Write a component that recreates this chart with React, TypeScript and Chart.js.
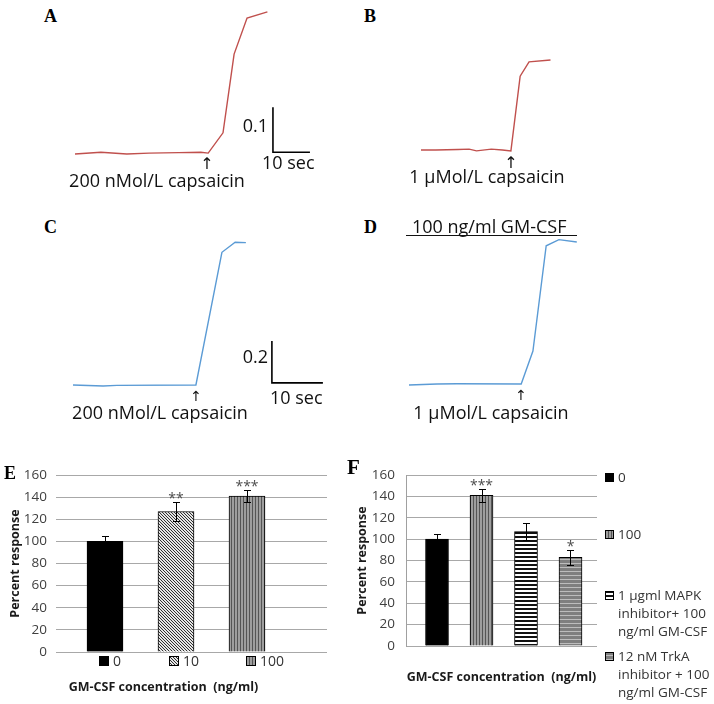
import React, { useEffect, useRef } from 'react';
import { Chart, registerables } from 'chart.js';

Chart.register(...registerables);

const SANS = '"Open Sans", "Noto Sans", "DejaVu Sans", sans-serif';
const SERIF = '"Liberation Serif", "DejaVu Serif", serif';
const ARROW_FONT = '"DejaVu Sans", sans-serif';

// ---------- Panels A–D: calcium-imaging traces (time in s, change in ratio) ----------
const A_TIME = [0, 7, 14, 20, 28, 34, 36, 40, 43, 46.5, 52];
const A_RATIO = [0, 0.004, 0, 0.002, 0.003, 0.004, 0.002, 0.047, 0.222, 0.302, 0.316];
const B_TIME = [0, 4, 10, 13, 15, 19, 22, 24.3, 26.8, 29.2, 35];
const B_RATIO = [0, 0, 0.001, 0.002, -0.002, 0.002, 0, -0.002, 0.164, 0.196, 0.2];
const C_TIME = [0, 5.9, 8.6, 24.1, 29.2, 31.8, 33.9];
const C_RATIO = [0, -0.005, -0.002, 0, 0.632, 0.68, 0.678];
const D_TIME = [0, 5.5, 9.4, 22, 24.3, 26.9, 29.4, 32.9];
const D_RATIO = [0, 0.005, 0.006, 0.005, 0.162, 0.663, 0.692, 0.681];
// scale bars: 10 s horizontal, 0.1 (A/B) or 0.2 (C/D) vertical
const SCALE_AB_TIME = [53.5, 53.5, 63.5];
const SCALE_AB_RATIO = [0.104, 0.004, 0.004];
const SCALE_CD_TIME = [39, 39, 49];
const SCALE_CD_RATIO = [0.21, 0.01, 0.01];

// ---------- Panels E–F: bar charts ----------
const Y_MIN = 0;
const Y_MAX = 160;
const Y_STEP = 20;
const E_CATEGORIES = ['0', '10', '100'];
const E_VALUES = [100, 127, 141];
const E_ERRORS = [5, 9, 5];
const E_STARS = ['', '**', '***'];
const F_CATEGORIES = [
  ['0'],
  ['100'],
  ['1 µgml MAPK', 'inhibitor+ 100', 'ng/ml GM-CSF'],
  ['12 nM TrkA', 'inhibitor + 100', 'ng/ml GM-CSF'],
];
const F_VALUES = [100, 141, 107, 83];
const F_ERRORS = [5, 6, 8, 7];
const F_STARS = ['', '***', '', '*'];

type FillKind = 'solid' | 'diag' | 'vert' | 'hbw' | 'hgrey';
const E_FILLS: FillKind[] = ['solid', 'diag', 'vert'];
const F_FILLS: FillKind[] = ['solid', 'vert', 'hbw', 'hgrey'];

function makeFill(ctx: CanvasRenderingContext2D, kind: FillKind): string | CanvasPattern {
  if (kind === 'solid') return '#000000';
  const c = document.createElement('canvas');
  const g = c.getContext('2d') as CanvasRenderingContext2D;
  if (kind === 'diag') {
    c.width = 3; c.height = 3;
    g.fillStyle = '#e6e6e6'; g.fillRect(0, 0, 3, 3);
    g.fillStyle = '#303030';
    g.fillRect(0, 0, 1, 1); g.fillRect(1, 1, 1, 1); g.fillRect(2, 2, 1, 1);
  } else if (kind === 'vert') {
    c.width = 3; c.height = 1;
    g.fillStyle = '#9e9e9e'; g.fillRect(0, 0, 3, 1);
    g.fillStyle = '#555555'; g.fillRect(0, 0, 1, 1);
  } else if (kind === 'hbw') {
    c.width = 1; c.height = 4;
    g.fillStyle = '#ffffff'; g.fillRect(0, 0, 1, 4);
    g.fillStyle = '#111111'; g.fillRect(0, 0, 1, 2);
  } else {
    c.width = 1; c.height = 4;
    g.fillStyle = '#7f7f7f'; g.fillRect(0, 0, 1, 4);
    g.fillStyle = '#bdbdbd'; g.fillRect(0, 3, 1, 1);
  }
  return ctx.createPattern(c, 'repeat') as CanvasPattern;
}

type Rect = { left: number; top: number; width: number; height: number };

function TraceChart(props: {
  rect: Rect; originX: number; originY: number; pxPerSec: number; pxPerUnit: number;
  time: number[]; ratio: number[]; color: string; barTime?: number[]; barRatio?: number[];
}) {
  const ref = useRef<HTMLCanvasElement>(null);
  useEffect(() => {
    const canvas = ref.current;
    if (!canvas) return;
    const { rect, originX, originY, pxPerSec, pxPerUnit } = props;
    const xmin = (rect.left - originX) / pxPerSec;
    const xmax = (rect.left + rect.width - originX) / pxPerSec;
    const ymax = (originY - rect.top) / pxPerUnit;
    const ymin = (originY - rect.top - rect.height) / pxPerUnit;
    const datasets: any[] = [
      {
        data: props.time.map((t, i) => ({ x: t, y: props.ratio[i] })),
        showLine: true, borderColor: props.color, borderWidth: 1.4,
        pointRadius: 0, tension: 0, fill: false,
      },
    ];
    if (props.barTime && props.barRatio) {
      const br = props.barRatio;
      datasets.push({
        data: props.barTime.map((t, i) => ({ x: t, y: br[i] })),
        showLine: true, borderColor: '#000000', borderWidth: 1.6,
        pointRadius: 0, tension: 0, fill: false,
      });
    }
    const chart = new Chart(canvas, {
      type: 'scatter',
      data: { datasets },
      options: {
        responsive: false, animation: false, events: [],
        layout: { padding: 0 },
        plugins: { legend: { display: false }, tooltip: { enabled: false }, title: { display: false } },
        scales: {
          x: { type: 'linear', display: false, min: xmin, max: xmax },
          y: { type: 'linear', display: false, min: ymin, max: ymax },
        },
      },
    });
    return () => chart.destroy();
  }, []);
  const r = props.rect;
  return (
    <canvas ref={ref} width={r.width} height={r.height}
      style={{ position: 'absolute', left: r.left, top: r.top, width: r.width, height: r.height }} />
  );
}

function errorBars(values: number[], errors: number[], stars: string[]) {
  return {
    id: 'errorBars',
    afterDatasetsDraw(chart: any) {
      const ctx: CanvasRenderingContext2D = chart.ctx;
      const y = chart.scales.y;
      const meta = chart.getDatasetMeta(0);
      ctx.save();
      ctx.strokeStyle = '#000000';
      ctx.lineWidth = 1;
      meta.data.forEach((el: any, i: number) => {
        const cx = Math.round(el.x) + 0.5;
        const top = Math.round(y.getPixelForValue(values[i] + errors[i])) + 0.5;
        const bot = Math.round(y.getPixelForValue(values[i] - errors[i])) + 0.5;
        ctx.beginPath();
        ctx.moveTo(cx, top); ctx.lineTo(cx, bot);
        ctx.moveTo(cx - 3.5, top); ctx.lineTo(cx + 3.5, top);
        ctx.moveTo(cx - 3.5, bot); ctx.lineTo(cx + 3.5, bot);
        ctx.stroke();
        if (stars[i]) {
          ctx.fillStyle = '#4d4d4d';
          ctx.font = `14px ${SANS}`;
          ctx.textAlign = 'center';
          ctx.textBaseline = 'alphabetic';
          ctx.fillText(stars[i], el.x, top);
        }
      });
      ctx.restore();
    },
  };
}

function BarChart(props: {
  rect: Rect; area: { left: number; right: number; top: number; bottom: number };
  values: number[]; errors: number[]; stars: string[]; fills: FillKind[];
  barThickness: number; firstCenter: number; spacing: number;
  yTitleCenterX: number; tickPad: number; showYBorder: boolean;
  xTitle: string; xTitleCenterY: number; xTitleFullSize: boolean;
}) {
  const ref = useRef<HTMLCanvasElement>(null);
  useEffect(() => {
    const canvas = ref.current;
    if (!canvas) return;
    const ctx = canvas.getContext('2d') as CanvasRenderingContext2D;
    const { rect, area } = props;
    const titleSize = 12.5;
    const lineH = titleSize * 1.2;
    const padTop = area.top - rect.top;
    const padRight = rect.left + rect.width - area.right;
    const yWidth = area.left - rect.left;
    const bottomSpace = rect.top + rect.height - area.bottom;
    const tPadBottom = rect.top + rect.height - props.xTitleCenterY - lineH / 2;
    const tPadTop = bottomSpace - lineH - tPadBottom;
    const xmin = -(props.firstCenter - area.left) / props.spacing;
    const xmax = xmin + (area.right - area.left) / props.spacing;
    const chart = new Chart(canvas, {
      type: 'bar',
      data: {
        datasets: [{
          data: props.values.map((v, i) => ({ x: i, y: v })) as any,
          backgroundColor: props.fills.map((f) => makeFill(ctx, f)) as any,
          borderColor: '#000000', borderWidth: 1,
          barThickness: props.barThickness,
        }],
      },
      options: {
        responsive: false, animation: false, events: [],
        layout: { padding: { top: padTop, right: padRight, left: 0, bottom: 0 } },
        plugins: {
          legend: { display: false },
          tooltip: { enabled: false },
          title: {
            display: true, position: 'bottom', text: props.xTitle, fullSize: props.xTitleFullSize,
            color: '#1a1a1a', font: { family: SANS, size: titleSize, weight: 'bold', lineHeight: 1.2 },
            padding: { top: tPadTop, bottom: tPadBottom },
          },
        },
        scales: {
          x: { type: 'linear', display: false, min: xmin, max: xmax, offset: false },
          y: {
            type: 'linear', min: Y_MIN, max: Y_MAX,
            ticks: { stepSize: Y_STEP, padding: props.tickPad, color: '#404040', font: { family: SANS, size: 13.5 } },
            grid: { color: '#a8a8a8', lineWidth: 1, drawTicks: false },
            border: { display: props.showYBorder, color: '#a0a0a0', width: 1 },
            title: {
              display: true, text: 'Percent response', color: '#1a1a1a',
              font: { family: SANS, size: titleSize, weight: 'bold', lineHeight: 1.2 },
              padding: { top: props.yTitleCenterX - rect.left - lineH / 2, bottom: 0 },
            },
            afterFit: (s: any) => { s.width = yWidth; },
          },
        },
      },
      plugins: [errorBars(props.values, props.errors, props.stars)],
    });
    return () => chart.destroy();
  }, []);
  const r = props.rect;
  return (
    <canvas ref={ref} width={r.width} height={r.height}
      style={{ position: 'absolute', left: r.left, top: r.top, width: r.width, height: r.height }} />
  );
}

function Swatch(props: { kind: FillKind; x: number; y: number; size: number }) {
  const ref = useRef<HTMLCanvasElement>(null);
  useEffect(() => {
    const c = ref.current;
    if (!c) return;
    const ctx = c.getContext('2d') as CanvasRenderingContext2D;
    ctx.clearRect(0, 0, props.size, props.size);
    ctx.fillStyle = makeFill(ctx, props.kind) as any;
    ctx.fillRect(0, 0, props.size, props.size);
    ctx.strokeStyle = '#000000';
    ctx.lineWidth = 1;
    ctx.strokeRect(0.5, 0.5, props.size - 1, props.size - 1);
  }, []);
  return <canvas ref={ref} width={props.size} height={props.size}
    style={{ position: 'absolute', left: props.x, top: props.y, width: props.size, height: props.size }} />;
}

function Txt(props: {
  x: number; y: number; text: string; size: number; align?: 'left' | 'center' | 'right';
  family?: string; weight?: number | string; color?: string;
}) {
  const family = props.family || SANS;
  const asc = family === SERIF ? 0.8375 : family === ARROW_FONT ? 0.846 : 0.888;
  const style: React.CSSProperties = {
    position: 'absolute', top: props.y - asc * props.size, fontFamily: family,
    fontSize: props.size, lineHeight: `${props.size}px`, whiteSpace: 'pre',
    color: props.color || '#111111', fontWeight: props.weight as any || 400,
  };
  const align = props.align || 'left';
  if (align === 'left') style.left = props.x;
  else if (align === 'center') { style.left = props.x; style.transform = 'translateX(-50%)'; }
  else style.right = 714 - props.x;
  return <div style={style}>{props.text}</div>;
}

const RED = '#c0504d';
const BLUE = '#5b9bd5';

export default function App() {
  const eLegendX = [99, 169, 246];
  const fLegendY = [478, 535, 596, 657];
  return (
    <div style={{ position: 'absolute', left: 0, top: 0, width: 714, height: 704, background: '#ffffff', overflow: 'hidden' }}>
      <TraceChart rect={{ left: 60, top: 0, width: 280, height: 200 }} originX={75} originY={154}
        pxPerSec={3.7} pxPerUnit={450} time={A_TIME} ratio={A_RATIO} color={RED}
        barTime={SCALE_AB_TIME} barRatio={SCALE_AB_RATIO} />
      <TraceChart rect={{ left: 400, top: 0, width: 180, height: 200 }} originX={421} originY={150}
        pxPerSec={3.7} pxPerUnit={450} time={B_TIME} ratio={B_RATIO} color={RED} />
      <TraceChart rect={{ left: 60, top: 200, width: 280, height: 200 }} originX={73} originY={385}
        pxPerSec={5.1} pxPerUnit={210} time={C_TIME} ratio={C_RATIO} color={BLUE}
        barTime={SCALE_CD_TIME} barRatio={SCALE_CD_RATIO} />
      <TraceChart rect={{ left: 400, top: 200, width: 200, height: 200 }} originX={409} originY={385}
        pxPerSec={5.1} pxPerUnit={210} time={D_TIME} ratio={D_RATIO} color={BLUE} />

      <BarChart rect={{ left: 0, top: 440, width: 357, height: 264 }}
        area={{ left: 56, right: 327, top: 475, bottom: 652 }}
        values={E_VALUES} errors={E_ERRORS} stars={E_STARS} fills={E_FILLS}
        barThickness={36} firstCenter={105} spacing={71}
        yTitleCenterX={15} tickPad={9} showYBorder={false}
        xTitle={'GM-CSF concentration  (ng/ml)'} xTitleCenterY={687} xTitleFullSize={true} />
      <BarChart rect={{ left: 350, top: 440, width: 364, height: 264 }}
        area={{ left: 406, right: 597, top: 475, bottom: 646 }}
        values={F_VALUES} errors={F_ERRORS} stars={F_STARS} fills={F_FILLS}
        barThickness={23} firstCenter={437} spacing={44.5}
        yTitleCenterX={362} tickPad={11} showYBorder={true}
        xTitle={'GM-CSF concentration  (ng/ml)'} xTitleCenterY={677} xTitleFullSize={false} />

      {/* panel letters */}
      <Txt x={44} y={22} text="A" size={18} family={SERIF} weight={700} color="#000" />
      <Txt x={364} y={22} text="B" size={18} family={SERIF} weight={700} color="#000" />
      <Txt x={44} y={233} text="C" size={18} family={SERIF} weight={700} color="#000" />
      <Txt x={364} y={233} text="D" size={18} family={SERIF} weight={700} color="#000" />
      <Txt x={4} y={479} text="E" size={18} family={SERIF} weight={700} color="#000" />
      <Txt x={347} y={475} text="F" size={21} family={SERIF} weight={700} color="#000" />

      {/* A */}
      <Txt x={268} y={132} text="0.1" size={18} align="right" />
      <Txt x={262} y={169} text="10 sec" size={18} />
      <Txt x={207} y={170} text="↑" size={16} align="center" family={ARROW_FONT} />
      <Txt x={157} y={187} text="200 nMol/L capsaicin" size={18} align="center" />
      {/* B */}
      <Txt x={511} y={169} text="↑" size={16} align="center" family={ARROW_FONT} />
      <Txt x={487} y={183} text="1 μMol/L capsaicin" size={18} align="center" />
      {/* C */}
      <Txt x={268} y={363} text="0.2" size={18} align="right" />
      <Txt x={270} y={404} text="10 sec" size={18} />
      <Txt x={196} y={401} text="↑" size={14} align="center" family={ARROW_FONT} />
      <Txt x={160} y={419} text="200 nMol/L capsaicin" size={18} align="center" />
      {/* D */}
      <Txt x={412} y={233} text="100 ng/ml GM-CSF" size={18} />
      <div style={{ position: 'absolute', left: 406, top: 235, width: 171, height: 1, background: '#111' }} />
      <Txt x={521} y={400} text="↑" size={14} align="center" family={ARROW_FONT} />
      <Txt x={491} y={419} text="1 μMol/L capsaicin" size={18} align="center" />

      {/* E legend */}
      {E_CATEGORIES.map((c, i) => (
        <React.Fragment key={'e' + i}>
          <Swatch kind={E_FILLS[i]} x={eLegendX[i]} y={656} size={10} />
          <Txt x={eLegendX[i] + 14} y={666} text={c} size={14} color="#333333" />
        </React.Fragment>
      ))}

      {/* F legend */}
      {F_CATEGORIES.map((lines, i) => (
        <React.Fragment key={'f' + i}>
          <Swatch kind={F_FILLS[i]} x={605} y={fLegendY[i] - 5} size={9} />
          {lines.map((ln, j) => (
            <Txt key={j} x={618} y={fLegendY[i] + 5 + j * 18} text={ln} size={13.5} color="#333333" />
          ))}
        </React.Fragment>
      ))}
    </div>
  );
}
